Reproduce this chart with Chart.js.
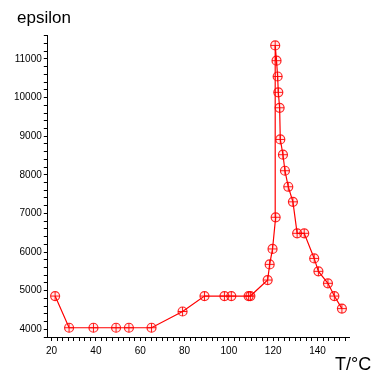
<!DOCTYPE html>
<html>
<head>
<meta charset="utf-8">
<script src="https://cdn.jsdelivr.net/npm/chart.js@4/dist/chart.umd.min.js"></script>
<style>
  html, body { margin: 0; padding: 0; background: #fff; }
  #wrap { width: 371px; height: 374px; }
</style>
</head>
<body>
<div id="wrap"><canvas id="epsChart"></canvas></div>
<script>
// Temperature (°C) and permittivity, in measurement order
const tempC = [21.6, 27.9, 38.9, 49.1, 54.9, 65.1, 79.1, 89.0, 98.0, 101.1, 108.9, 109.7,
    117.5, 118.4, 119.7, 121.1, 120.9, 121.5, 122.0, 122.3, 122.9, 123.2, 124.4, 125.3,
    126.8, 128.9, 130.8, 134.0, 138.5, 140.4, 144.7, 147.6, 151.0];
const epsilon = [4860, 4040, 4040, 4040, 4040, 4040, 4460, 4860, 4860, 4860, 4860, 4860,
    5275, 5680, 6080, 6900, 11350, 10955, 10545, 10135, 9735, 8915, 8520, 8105,
    7690, 7300, 6485, 6485, 5835, 5500, 5190, 4860, 4535];

// tick marks (labels only on the major ones)
const xTicks = [];
for (let t = 20; t <= 152.5; t += 2.5) xTicks.push(t);
const yTicks = [];
for (let v = 3800; v <= 11600; v += 200) yTicks.push(v);
const xLabelEvery = 20;
const yLabelEvery = 1000;

const points = tempC.map((t, i) => ({ x: t, y: epsilon[i] }));

// captions drawn like the original: "epsilon" top-left, "T/°C" bottom-right
const captions = {
    id: 'captions',
    afterDraw: (chart) => {
        const ctx = chart.ctx;
        ctx.save();
        ctx.fillStyle = '#000';
        ctx.textBaseline = 'alphabetic';
        ctx.font = '17px "Liberation Sans", Arial, sans-serif';
        ctx.textAlign = 'left';
        ctx.fillText('epsilon', 17, 23);
        ctx.font = '18px "Liberation Sans", Arial, sans-serif';
        ctx.fillText('T/°C', 335, 370);
        ctx.restore();
    }
};

const axisLook = {
    grid: { drawOnChartArea: false, drawTicks: true, tickLength: 4, color: '#000', tickWidth: 1 },
    border: { display: true, color: '#000', width: 1 }
};

new Chart(document.getElementById('epsChart').getContext('2d'), {
    type: 'line',
    data: {
        datasets: [
            {
                data: points,
                borderColor: '#ff0000',
                borderWidth: 1.2,
                tension: 0,
                pointStyle: 'circle',
                pointRadius: 4.5,
                pointBorderWidth: 1.2,
                pointBorderColor: 'rgba(255,0,0,0.85)',
                pointBackgroundColor: 'rgba(255,0,0,0.08)'
            },
            {
                data: points,
                showLine: false,
                pointStyle: 'cross',
                pointRadius: 4.5,
                pointBorderWidth: 1,
                pointBorderColor: 'rgba(255,0,0,0.9)'
            }
        ]
    },
    options: {
        responsive: true,
        maintainAspectRatio: false,
        animation: false,
        layout: { padding: { left: 12, right: 22, top: 35, bottom: 13 } },
        scales: {
            x: {
                type: 'linear',
                min: 18.3,
                max: 154.2,
                afterBuildTicks: (scale) => { scale.ticks = xTicks.map(v => ({ value: v })); },
                ticks: {
                    autoSkip: false,
                    maxRotation: 0,
                    padding: 4,
                    color: '#000',
                    font: { family: '"Liberation Sans", Arial, sans-serif', size: 10 },
                    callback: (value) => (value % xLabelEvery === 0 ? String(value) : '')
                },
                ...axisLook
            },
            y: {
                type: 'linear',
                min: 3800,
                max: 11620,
                afterBuildTicks: (scale) => { scale.ticks = yTicks.map(v => ({ value: v })); },
                ticks: {
                    autoSkip: false,
                    padding: 2,
                    color: '#000',
                    font: { family: '"Liberation Sans", Arial, sans-serif', size: 10 },
                    callback: (value) => (value % yLabelEvery === 0 ? String(value) : '')
                },
                ...axisLook
            }
        },
        plugins: {
            legend: { display: false },
            tooltip: { enabled: false }
        }
    },
    plugins: [captions]
});
</script>
</body>
</html>
